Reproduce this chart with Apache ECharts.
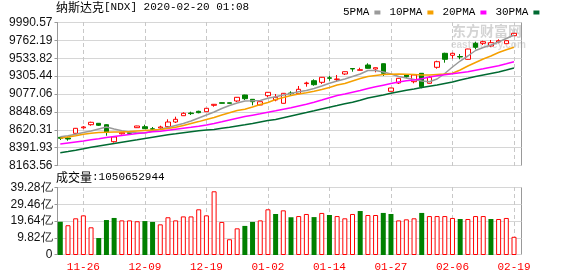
<!DOCTYPE html>
<html><head><meta charset="utf-8">
<script src="https://cdn.jsdelivr.net/npm/echarts/dist/echarts.min.js"></script>
<style>html,body{margin:0;padding:0;background:#fff}#c{width:578px;height:276px}</style>
</head><body><div id="c"></div>
<script>
const dates = ['11-21','11-22','11-25','11-26','11-27','11-29','12-02','12-03','12-04','12-05','12-06','12-09','12-10','12-11','12-12','12-13','12-16','12-17','12-18','12-19','12-20','12-23','12-24','12-26','12-27','12-30','12-31','01-02','01-03','01-06','01-07','01-08','01-09','01-10','01-13','01-14','01-15','01-16','01-17','01-21','01-22','01-23','01-24','01-27','01-28','01-29','01-30','01-31','02-03','02-04','02-05','02-06','02-07','02-10','02-11','02-12','02-13','02-14','02-18','02-19'];
// [open, close, low, high]
const candles = [
[8527.7,8515.0,8493.5,8531.5],[8518.8,8506.1,8484.6,8535.3],[8578.4,8641.9,8575.9,8645.7],[8648.2,8658.4,8636.8,8671.1],
[8687.6,8718.0,8674.9,8725.6],[8705.3,8680.0,8671.1,8709.1],[8687.6,8594.9,8548.0,8692.6],[8471.9,8531.5,8459.2,8534.0],
[8572.1,8586.0,8563.2,8594.9],[8586.0,8578.4,8569.5,8591.1],[8649.5,8671.1,8645.7,8673.6],[8662.2,8636.8,8633.0,8687.6],
[8635.5,8630.5,8620.3,8658.4],[8645.7,8658.4,8633.0,8674.9],[8662.2,8721.8,8658.4,8756.1],[8721.8,8756.1,8709.1,8789.1],
[8801.7,8832.2,8798.0,8844.9],[8836.0,8828.4,8810.6,8852.5],[8857.6,8839.8,8832.2,8865.2],[8852.5,8895.7,8848.7,8899.5],
[8933.7,8946.4,8916.0,8950.2],[8966.7,8959.1,8956.6,8969.2],[8965.4,8959.1,8956.6,8967.9],[8988.3,9035.2,8975.6,9039.0],
[9064.4,9017.4,9001.0,9068.1],[9009.8,8979.4,8933.7,9013.6],[8937.5,8979.4,8935.0,8982.0],[9055.5,9098.6,9035.2,9102.4],
[9001.0,9035.2,8984.5,9077.0],[8959.1,9085.9,8956.6,9089.7],[9089.7,9082.1,9055.5,9111.3],[9080.8,9136.7,9077.0,9178.6],
[9209.0,9216.6,9169.7,9233.1],[9245.8,9195.1,9182.4,9263.6],[9225.5,9289.0,9203.9,9292.8],[9282.6,9276.3,9245.8,9309.3],
[9259.8,9267.4,9233.1,9318.2],[9330.8,9360.0,9318.2,9362.6],[9400.5,9394.3,9360.0,9403.0],[9377.8,9385.3,9375.3,9410.6],
[9444.9,9403.0,9400.5,9466.5],[9394.3,9410.6,9352.4,9413.2],[9461.4,9339.7,9305.4,9464.0],[9111.3,9153.2,9108.8,9155.7],
[9216.6,9276.3,9203.9,9280.1],[9321.9,9296.6,9276.3,9324.5],[9233.1,9318.2,9212.8,9320.7],[9339.7,9169.7,9149.4,9343.5],
[9212.8,9289.0,9210.3,9305.4],[9415.7,9486.8,9398.0,9499.5],[9593.4,9517.3,9474.2,9601.0],[9568.0,9593.4,9524.9,9601.0],
[9552.8,9546.5,9517.3,9584.5],[9517.3,9648.0,9514.7,9650.6],[9720.3,9669.6,9644.3,9740.6],[9720.3,9740.6,9698.8,9753.3],
[9686.1,9728.0,9677.2,9762.2],[9736.8,9753.3,9720.3,9771.1],[9715.3,9753.3,9711.4,9755.9],[9816.8,9847.2,9813.0,9851.0]
];
const ma5 = [8535.3,8546.7,8565.7,8588.6,8607.6,8633.0,8658.4,8633.0,8611.4,8594.9,8582.2,8582.2,8607.6,8629.2,8652.0,8677.4,8702.8,8734.5,8772.6,8810.6,8848.7,8893.1,8931.2,8962.9,8988.3,8990.8,8994.6,9022.5,9041.6,9064.4,9083.4,9105.0,9121.5,9146.9,9178.6,9212.8,9242.0,9267.4,9299.1,9330.8,9375.3,9375.3,9356.2,9330.8,9299.1,9280.1,9261.1,9242.0,9233.1,9267.4,9337.2,9419.5,9495.7,9559.2,9629.0,9667.1,9698.8,9736.8,9781.2,9825.6];
const ma10 = [8515.0,8531.5,8548.0,8567.0,8578.4,8587.3,8591.1,8593.6,8594.9,8600.0,8607.6,8614.0,8620.3,8627.9,8639.3,8654.6,8677.4,8702.8,8726.9,8753.5,8778.9,8810.6,8838.6,8867.8,8883.0,8912.1,8943.9,8969.2,9007.3,9032.6,9058.0,9077.0,9093.5,9112.6,9134.1,9159.5,9191.3,9210.3,9242.0,9273.7,9299.1,9311.8,9324.5,9328.3,9330.8,9327.0,9323.2,9318.2,9318.2,9324.5,9330.8,9339.7,9381.6,9432.3,9476.7,9521.1,9559.2,9603.6,9637.8,9669.6];
const ma20 = [8442.7,8455.4,8468.1,8480.8,8495.9,8509.9,8525.1,8537.8,8550.5,8563.2,8574.6,8586.0,8597.5,8605.1,8617.8,8630.5,8643.2,8654.6,8668.5,8683.8,8702.8,8724.4,8747.2,8768.8,8790.4,8808.1,8825.9,8846.2,8864.0,8883.0,8902.0,8924.9,8947.7,8973.0,9001.0,9030.1,9056.8,9077.0,9099.9,9121.5,9146.9,9168.5,9188.7,9209.0,9229.3,9244.5,9254.7,9269.9,9292.8,9308.0,9320.7,9333.4,9346.1,9358.8,9377.8,9396.7,9415.7,9434.8,9460.1,9485.6];
const ma30 = [8332.3,8347.6,8364.1,8381.8,8400.8,8417.3,8433.8,8449.0,8465.5,8480.8,8495.9,8512.4,8528.9,8544.2,8559.4,8572.1,8586.0,8598.7,8610.1,8620.3,8626.6,8641.9,8654.6,8671.1,8686.3,8702.8,8721.8,8739.6,8754.8,8776.5,8798.0,8819.5,8841.1,8864.0,8887.4,8908.3,8929.9,8952.7,8973.0,8998.4,9026.3,9045.3,9064.4,9085.9,9106.2,9124.0,9140.5,9158.3,9174.8,9191.3,9210.3,9229.3,9254.7,9276.3,9299.1,9318.2,9337.2,9356.2,9381.6,9407.2];
// volume in 亿
const volumes = [19.2,17.2,21.2,22.9,16.0,9.8,20.2,21.4,20.0,20.0,19.5,19.6,19.1,17.7,21.8,20.0,22.3,22.3,26.4,22.9,36.8,19.1,9.1,15.4,16.8,19.1,20.0,26.4,23.7,25.8,21.8,22.5,23.7,21.9,24.3,23.1,22.5,21.2,23.7,25.4,23.1,23.1,24.3,23.7,20.0,20.6,21.2,24.3,22.5,22.5,22.5,21.4,20.8,20.8,22.5,22.5,20.8,20.8,21.4,10.51];
const volUp = [0,1,1,1,1,0,0,0,1,1,1,0,0,1,1,1,1,1,1,1,1,1,1,1,0,0,1,1,0,1,0,1,1,0,1,0,1,1,1,0,1,1,0,0,1,1,1,0,1,1,1,1,0,1,1,1,0,1,1,1];
const currentVolume = 1050652944;
const priceTickLabels = ['8163.56','8391.93','8620.31','8848.69','9077.06','9305.44','9533.82','9762.19','9990.57'];
const volTickLabels = ['0','9.82亿','19.64亿','29.46亿','39.28亿'];
const priceMin = 8163.56, priceMax = 9990.57, volMax = 39.28;
const maNames = ['5PMA','10PMA','20PMA','30PMA'];

const maColors = ['#9a9a9a','#f5a000','#ff00ff','#006a32'];
const labelInterval = (i) => i % 8 === 3;
const axisFont = 'Liberation Sans';
const mono = 'Liberation Mono';
const chart = echarts.init(document.getElementById('c'), null, {renderer:'canvas'});
const frameAxisY = (n, labels) => ({
  type:'value', min:0, max:n, interval:1,
  axisLine:{show:true, lineStyle:{color:'#999'}},
  axisTick:{show:true, length:3, lineStyle:{color:'#999'}},
  axisLabel:{margin:5, fontFamily:axisFont, fontSize:12, color:'#111', formatter:(v)=>labels[v]},
  splitLine:{show:true, lineStyle:{color:'#d6d6d6', width:1}}
});
const dashed = {show:true, interval:labelInterval, lineStyle:{type:[4,3], color:'#c8c8c8', width:1}};
chart.setOption({
  animation:false,
  backgroundColor:'#fff',
  title:[
    {text:'{a|纳斯达克}{b|[NDX] 2020-02-20 01:08}', left:56, top:1, padding:0,
     textStyle:{color:'#000', fontWeight:'normal', rich:{a:{fontFamily:'Noto Sans CJK SC', fontSize:12, color:'#000'}, b:{fontFamily:mono, fontSize:11, color:'#000'}}}},
    {text:'{a|成交量}{b|:' + currentVolume + '}', left:56, top:171, padding:0,
     textStyle:{color:'#000', fontWeight:'normal', rich:{a:{fontFamily:'Noto Sans CJK SC', fontSize:12, color:'#000'}, b:{fontFamily:mono, fontSize:11, color:'#000'}}}}
  ],
  legend:{data:maNames, left:338, top:2, align:'right', icon:'rect', itemWidth:6, itemHeight:4, itemGap:9,
    textStyle:{fontFamily:mono, fontSize:11, color:'#000', padding:[0,0,0,0]}},
  graphic:[
    {type:'text', left:452, top:24, z:-10, silent:true, style:{text:'东方财富网', font:'bold 14px "Noto Sans CJK SC"', fill:'#d4d4d4'}},
    {type:'text', left:451, top:40, z:-10, silent:true, style:{text:'eastmoney.com', font:'bold 10px "Liberation Sans"', fill:'#dadada'}}
  ],
  grid:[
    {left:60.3, top:22, width:453.7, height:144},
    {left:60.3, top:187, width:453.7, height:68},
    {left:57.5, top:22.5, width:464, height:143, show:true, borderColor:'#999', borderWidth:1, backgroundColor:'transparent'},
    {left:57.5, top:187.5, width:464, height:67, show:true, borderColor:'#999', borderWidth:1, backgroundColor:'transparent'}
  ],
  xAxis:[
    {gridIndex:0, type:'category', data:dates, boundaryGap:false, axisLine:{show:false}, axisTick:{show:false}, axisLabel:{show:false}, splitLine:dashed},
    {gridIndex:1, type:'category', data:dates, boundaryGap:false, axisLine:{show:false}, axisTick:{show:false},
     axisLabel:{show:true, interval:labelInterval, color:'#ff0000', fontFamily:mono, fontSize:11, margin:7}, splitLine:dashed},
    {gridIndex:2, type:'value', min:0, max:1, show:false},
    {gridIndex:3, type:'value', min:0, max:1, show:false}
  ],
  yAxis:[
    {gridIndex:0, type:'value', min:priceMin, max:priceMax, show:false, splitLine:{show:false}},
    {gridIndex:1, type:'value', min:0, max:volMax, show:false, splitLine:{show:false}},
    Object.assign({gridIndex:2}, frameAxisY(8, priceTickLabels)),
    Object.assign({gridIndex:3}, frameAxisY(4, volTickLabels))
  ],
  series:[
    {type:'candlestick', name:'K', xAxisIndex:0, yAxisIndex:0, data:candles, barWidth:5, clip:false, z:3,
     itemStyle:{color:'#ffffff', color0:'#008000', borderColor:'#ff0000', borderColor0:'#008000', borderWidth:1}},
    ...[ma5, ma10, ma20, ma30].map((d, k) => ({
      type:'line', name:maNames[k], xAxisIndex:0, yAxisIndex:0, data:d, symbol:'none', showSymbol:false, z:4,
      itemStyle:{color:maColors[k]}, lineStyle:{color:maColors[k], width:1.5}
    })),
    {type:'bar', name:'VOL', xAxisIndex:1, yAxisIndex:1, barWidth:5, clip:false,
     data: volumes.map((v, i) => ({value:v, itemStyle: volUp[i] ? {color:'#ffffff', borderColor:'#ff0000', borderWidth:1} : {color:'#008000', borderColor:'#008000', borderWidth:0}}))}
  ]
});
</script></body></html>
